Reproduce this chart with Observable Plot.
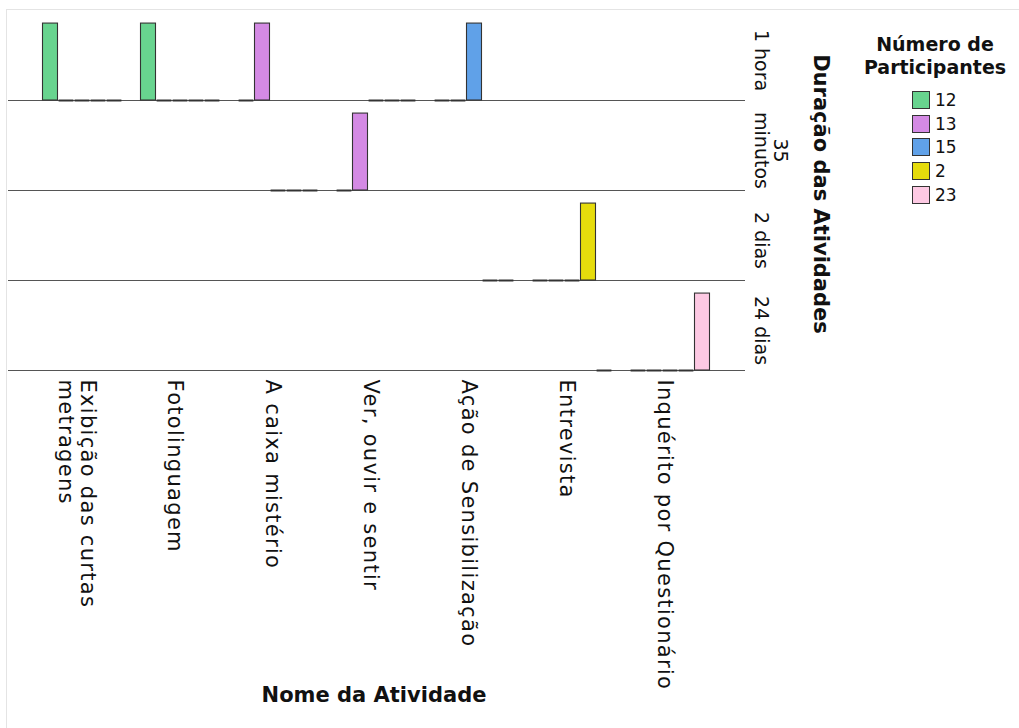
<!DOCTYPE html>
<html>
<head>
<meta charset="utf-8">
<script src="https://cdn.jsdelivr.net/npm/d3@7"></script>
<script src="https://cdn.jsdelivr.net/npm/@observablehq/plot@0.6"></script>
<style>
  html, body { margin: 0; padding: 0; background: #fff; }
  #wrap { position: relative; width: 1019px; height: 728px; overflow: hidden; font-family: "DejaVu Sans", sans-serif; }
  #frame { position: absolute; left: 6px; top: 9px; right: -5px; bottom: -5px; border-top: 1.5px solid #e4e4e4; border-left: 1.5px solid #e4e4e4; }
  #chart { position: absolute; left: 0; top: 0; }
  #chart g[aria-label="fx-axis tick label"] text { letter-spacing: 1.3px; }
  .ttl { position: absolute; font-weight: bold; color: #111; white-space: nowrap; }
  #xtitle { font-size: 21px; left: 374px; top: 695px; transform: translate(-50%, -50%); }
  #ytitle { font-size: 21px; left: 821px; top: 194px; writing-mode: vertical-rl; transform: translate(-50%, -50%); }
  #legend { position: absolute; left: 855px; top: 33px; width: 160px; }
  #legend .lt { font-weight: bold; font-size: 19px; line-height: 23px; text-align: center; color: #111; }
  #legend .items { margin-left: 57px; margin-top: 9px; }
  #legend .it { display: flex; align-items: center; height: 23.8px; font-size: 17px; color: #111; }
  #legend .sw { width: 16px; height: 16px; border: 1.2px solid #333; margin-right: 5px; }
</style>
</head>
<body>
<div id="wrap">
  <div id="frame"></div>
  <div id="chart"></div>
  <div class="ttl" id="xtitle">Nome da Atividade</div>
  <div class="ttl" id="ytitle">Duração das Atividades</div>
  <div id="legend"></div>
</div>
<script>
// Categories
const activities = [
  "Exibição das curtas metragens",
  "Fotolinguagem",
  "A caixa mistério",
  "Ver, ouvir e sentir",
  "Ação de Sensibilização",
  "Entrevista",
  "Inquérito por Questionário"
];
const activityTickLabels = [
  "Exibição das curtas\nmetragens",
  "Fotolinguagem",
  "A caixa mistério",
  "Ver, ouvir e sentir",
  "Ação de Sensibilização",
  "Entrevista",
  "Inquérito por Questionário"
];
const durations = ["1 hora", "35 minutos", "2 dias", "24 dias"];
const durationTickLabels = ["1 hora", "35\nminutos", "2 dias", "24 dias"];
const participants = ["12", "13", "15", "2", "23"];
const participantColors = ["#68d48f", "#d48ae4", "#60a1e8", "#e6dc0c", "#fdc9e3"];

// Bars with a count of 1 (one per activity)
const barActivity    = activities;
const barDuration    = ["1 hora", "1 hora", "1 hora", "35 minutos", "1 hora", "2 dias", "24 dias"];
const barParticipant = ["12", "12", "13", "13", "15", "2", "23"];
const barCount       = [1, 1, 1, 1, 1, 1, 1];

// Empty (zero count) bars as drawn in the reference
const zeroActivity = [
  "Exibição das curtas metragens","Exibição das curtas metragens","Exibição das curtas metragens","Exibição das curtas metragens",
  "Fotolinguagem","Fotolinguagem","Fotolinguagem","Fotolinguagem",
  "A caixa mistério","A caixa mistério","A caixa mistério","A caixa mistério",
  "Ver, ouvir e sentir","Ver, ouvir e sentir","Ver, ouvir e sentir","Ver, ouvir e sentir",
  "Ação de Sensibilização","Ação de Sensibilização","Ação de Sensibilização","Ação de Sensibilização",
  "Entrevista","Entrevista","Entrevista","Entrevista",
  "Inquérito por Questionário","Inquérito por Questionário","Inquérito por Questionário","Inquérito por Questionário"
];
const zeroParticipant = [
  "13","15","2","23",
  "13","15","2","23",
  "12","15","2","23",
  "12","15","2","23",
  "12","13","2","23",
  "12","13","15","23",
  "12","13","15","2"
];
const zeroDuration = [
  "1 hora","1 hora","1 hora","1 hora",
  "1 hora","1 hora","1 hora","1 hora",
  "1 hora","35 minutos","35 minutos","35 minutos",
  "35 minutos","1 hora","1 hora","1 hora",
  "1 hora","1 hora","2 dias","2 dias",
  "2 dias","2 dias","2 dias","24 dias",
  "24 dias","24 dias","24 dias","24 dias"
];

const bars = barActivity.map((a, i) => ({activity: a, duration: barDuration[i], participant: barParticipant[i], count: barCount[i]}));
const zeros = zeroActivity.map((a, i) => ({activity: a, duration: zeroDuration[i], participant: zeroParticipant[i], count: 0}));
// one baseline per facet cell (every activity × duration)
const cells = activities.flatMap(a => durations.map(d => ({activity: a, duration: d})));

const fxLabel = new Map(activities.map((a, i) => [a, activityTickLabels[i]]));
const fyLabel = new Map(durations.map((d, i) => [d, durationTickLabels[i]]));

const chart = Plot.plot({
  width: 1019,
  height: 728,
  marginLeft: 8,
  marginRight: 276,
  marginTop: 10,
  marginBottom: 358,
  style: {fontFamily: "DejaVu Sans, sans-serif", background: "transparent", color: "#111"},
  fx: {domain: activities, paddingInner: 0.184, paddingOuter: 0.342, axis: null, label: null},
  fy: {domain: durations, padding: 0, axis: null, label: null},
  x: {domain: participants, padding: 0, axis: null},
  y: {domain: [0, 1.17], axis: null},
  color: {domain: participants, range: participantColors},
  marks: [
    Plot.ruleY(cells, {fx: "activity", fy: "duration", y: () => 0, stroke: "#555", strokeWidth: 1.2, insetLeft: -34, insetRight: -35}),
    Plot.tickY(zeros, {fx: "activity", fy: "duration", x: "participant", y: "count", stroke: "#333", strokeWidth: 2, insetLeft: 0.6, insetRight: 0.6}),
    Plot.barY(bars, {fx: "activity", fy: "duration", x: "participant", y: "count", fill: "participant", stroke: "#333", strokeWidth: 1.1, insetLeft: 0.5, insetRight: 0.5}),
    Plot.axisFx({anchor: "bottom", tickRotate: 90, tickSize: 0, tickPadding: 9, textAnchor: "start", lineAnchor: "middle", lineHeight: 1.05, fontSize: 21, dx: -5, label: null, tickFormat: d => fxLabel.get(d)}),
    Plot.axisFy({anchor: "right", tickRotate: 90, tickSize: 0, tickPadding: 0, textAnchor: "middle", lineAnchor: "bottom", lineHeight: 1.05, fontSize: 19, dx: 44, dy: 5, label: null, tickFormat: d => fyLabel.get(d)})
  ]
});
document.getElementById("chart").appendChild(chart);

// Legend
const leg = document.getElementById("legend");
leg.innerHTML = '<div class="lt">Número de<br>Participantes</div><div class="items">' +
  participants.map((p, i) => `<div class="it"><span class="sw" style="background:${participantColors[i]}"></span>${p}</div>`).join("") +
  '</div>';
</script>
</body>
</html>
